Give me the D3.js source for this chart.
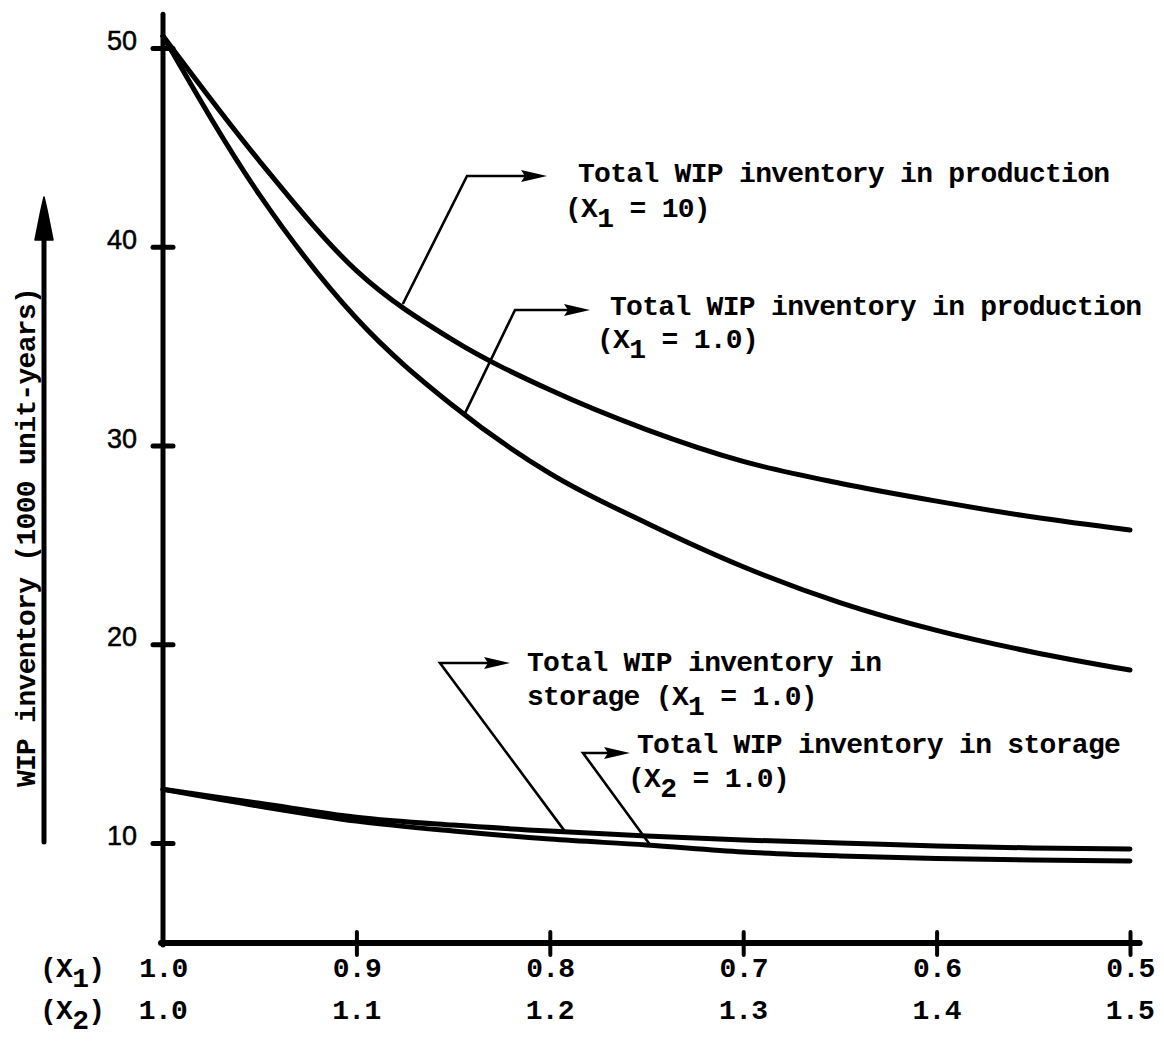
<!DOCTYPE html>
<html>
<head>
<meta charset="utf-8">
<script src="https://cdn.jsdelivr.net/npm/d3@7"></script>
<style>
  html, body { margin: 0; padding: 0; background: #fff; }
  svg { display: block; }
  .mono { font-family: "Liberation Mono", "DejaVu Sans Mono", monospace; font-weight: bold; font-size: 28px; letter-spacing: -0.7px; fill: #000; }
  .num { font-family: "Liberation Sans", Arial, sans-serif; font-size: 27px; fill: #000; stroke: #000; stroke-width: 0.5px; }
</style>
</head>
<body>
<svg id="chart" width="1164" height="1046"></svg>
<script>
// Relative process speed (X1) and the matching storage factor (X2)
const xValues = [1.0, 0.95, 0.9, 0.85, 0.8, 0.75, 0.7, 0.65, 0.6, 0.55, 0.5];

// WIP inventory, 1000 unit-years
const productionX1Ten = [50.6, 44.3, 38.8, 35.3, 32.8, 30.8, 29.2, 28.1, 27.2, 26.4, 25.75];
const productionX1One = [50.6, 42.6, 36.4, 32.0, 28.6, 26.1, 23.9, 22.1, 20.7, 19.6, 18.7];
const storageX1One   = [12.7, 12.0, 11.3, 10.9, 10.6, 10.35, 10.15, 10.0, 9.85, 9.75, 9.7];
const storageX2One   = [12.7, 11.85, 11.1, 10.6, 10.2, 9.9, 9.55, 9.35, 9.22, 9.15, 9.1];

// Axis ticks and labels
const x1Ticks  = [1.0, 0.9, 0.8, 0.7, 0.6, 0.5];
const x1Labels = ["1.0", "0.9", "0.8", "0.7", "0.6", "0.5"];
const x2Labels = ["1.0", "1.1", "1.2", "1.3", "1.4", "1.5"];
const yTicks   = [10, 20, 30, 40, 50];

const svg = d3.select("#chart");
svg.append("rect").attr("width", 1164).attr("height", 1046).attr("fill", "#fff");

const x = d3.scaleLinear().domain([1.0, 0.5]).range([163, 1130]);
const y = d3.scaleLinear().domain([10, 50]).range([843, 48]);
const yBottom = y(4.97);

const ink = "#000";

// ---- axes -------------------------------------------------------------
const axisG = svg.append("g");
axisG.append("line")
  .attr("x1", x(1.0)).attr("x2", x(1.0))
  .attr("y1", y(51.7)).attr("y2", yBottom + 2)
  .attr("stroke", ink).attr("stroke-width", 5).attr("stroke-linecap", "round");
axisG.append("line")
  .attr("x1", x(1.0) - 2).attr("x2", x(0.495))
  .attr("y1", yBottom).attr("y2", yBottom)
  .attr("stroke", ink).attr("stroke-width", 6).attr("stroke-linecap", "round");

// y ticks cross the axis
const yAxis = d3.axisLeft(y).tickValues(yTicks).tickSize(0).tickPadding(0).tickFormat(d3.format("d"));
const yAxisG = svg.append("g").attr("transform", `translate(${x(1.0)},0)`).call(yAxis);
yAxisG.select(".domain").remove();
yAxisG.selectAll(".tick line").remove();
yAxisG.selectAll(".tick").append("line")
  .attr("x1", -10).attr("x2", 10)
  .attr("stroke", ink).attr("stroke-width", 5).attr("stroke-linecap", "round");
yAxisG.selectAll(".tick text")
  .attr("class", "num")
  .attr("x", -26).attr("dy", "0.28em").attr("y", -6)
  .attr("text-anchor", "end");
yAxisG.attr("font-family", null).attr("font-size", null);

// x ticks, first row (X1)
const xAxis = d3.axisBottom(x).tickValues(x1Ticks).tickSize(0).tickPadding(0)
  .tickFormat((d, i) => x1Labels[i]);
const xAxisG = svg.append("g").attr("transform", `translate(0,${yBottom})`).call(xAxis);
xAxisG.select(".domain").remove();
xAxisG.selectAll(".tick line").remove();
xAxisG.selectAll(".tick").filter((d, i) => i > 0).append("line")
  .attr("y1", -11).attr("y2", 12)
  .attr("stroke", ink).attr("stroke-width", 4).attr("stroke-linecap", "round");
xAxisG.selectAll(".tick text")
  .attr("class", "mono").attr("y", 34).attr("dy", null)
  .attr("text-anchor", "middle");
xAxisG.attr("font-family", null).attr("font-size", null);

// second row (X2)
svg.append("g").selectAll("text")
  .data(x1Ticks)
  .join("text")
  .attr("class", "mono")
  .attr("x", d => x(d))
  .attr("y", yBottom + 76)
  .attr("text-anchor", "middle")
  .text((d, i) => x2Labels[i]);

// row captions with subscripts
function richText(g, px, py, parts, extra) {
  const t = g.append("text").attr("class", "mono").attr("x", px).attr("y", py);
  if (extra) t.attr("transform", extra);
  let shift = 0;
  parts.forEach(([s, sub]) => {
    const target = sub ? 10 : 0;
    t.append("tspan").attr("dy", target - shift).text(s);
    shift = target;
  });
  return t;
}
richText(svg, 40, yBottom + 34, [["(X", 0], ["1", 1], [")", 0]]);
richText(svg, 40, yBottom + 76, [["(X", 0], ["2", 1], [")", 0]]);

// y axis caption with an upward arrow
svg.append("text")
  .attr("class", "mono")
  .attr("transform", `translate(35,${(283 + 792) / 2}) rotate(-90)`)
  .attr("text-anchor", "middle")
  .text("WIP inventory (1000 unit-years)");
svg.append("line")
  .attr("x1", 44).attr("x2", 44).attr("y1", 842).attr("y2", 232)
  .attr("stroke", ink).attr("stroke-width", 5).attr("stroke-linecap", "round");
svg.append("path")
  .attr("d", "M44,197 L47,210 L53,240 L35,240 L41,210 Z")
  .attr("fill", ink).attr("stroke", ink).attr("stroke-width", 1.5).attr("stroke-linejoin", "round");

// ---- curves -----------------------------------------------------------
const line = d3.line()
  .x(d => x(d[0]))
  .y(d => y(d[1]))
  .curve(d3.curveMonotoneX);

const series = [productionX1Ten, productionX1One, storageX1One, storageX2One];
svg.append("g").selectAll("path")
  .data(series)
  .join("path")
  .attr("d", s => line(xValues.map((v, i) => [v, s[i]])))
  .attr("fill", "none")
  .attr("stroke", ink)
  .attr("stroke-width", 5)
  .attr("stroke-linecap", "round")
  .attr("stroke-linejoin", "round");

// ---- annotations ------------------------------------------------------
function valueAt(s, xv) {
  const i = d3.bisector(d => -d).left(xValues.map(v => v), 0);
  for (let k = 0; k < xValues.length - 1; k++) {
    const a = xValues[k], b = xValues[k + 1];
    if (xv <= a && xv >= b) {
      const t = (a - xv) / (a - b);
      return s[k] + t * (s[k + 1] - s[k]);
    }
  }
  return s[s.length - 1];
}

function leader(s, xv, elbow, arrowEnd) {
  const g = svg.append("g");
  const px = x(xv), py = y(valueAt(s, xv));
  g.append("path")
    .attr("d", `M${px},${py} L${elbow[0]},${elbow[1]} L${arrowEnd - 22},${elbow[1]}`)
    .attr("fill", "none").attr("stroke", ink).attr("stroke-width", 2.6)
    .attr("stroke-linejoin", "miter");
  g.append("path")
    .attr("d", `M${arrowEnd},${elbow[1]} L${arrowEnd - 26},${elbow[1] - 6} L${arrowEnd - 22},${elbow[1]} L${arrowEnd - 26},${elbow[1] + 6} Z`)
    .attr("fill", ink);
}

leader(productionX1Ten, 0.876, [467, 176], 547);
richText(svg, 578, 182, [["Total WIP inventory in production", 0]]);
richText(svg, 565, 217, [["(X", 0], ["1", 1], [" = 10)", 0]]);

leader(productionX1One, 0.844, [515, 310], 590);
richText(svg, 610, 315, [["Total WIP inventory in production", 0]]);
richText(svg, 597, 348, [["(X", 0], ["1", 1], [" = 1.0)", 0]]);

leader(storageX1One, 0.792, [440, 663], 510);
richText(svg, 527, 671, [["Total WIP inventory in", 0]]);
richText(svg, 527, 705, [["storage (X", 0], ["1", 1], [" = 1.0)", 0]]);

leader(storageX2One, 0.748, [583, 753], 630);
richText(svg, 637, 753, [["Total WIP inventory in storage", 0]]);
richText(svg, 628, 787, [["(X", 0], ["2", 1], [" = 1.0)", 0]]);
</script>
</body>
</html>
